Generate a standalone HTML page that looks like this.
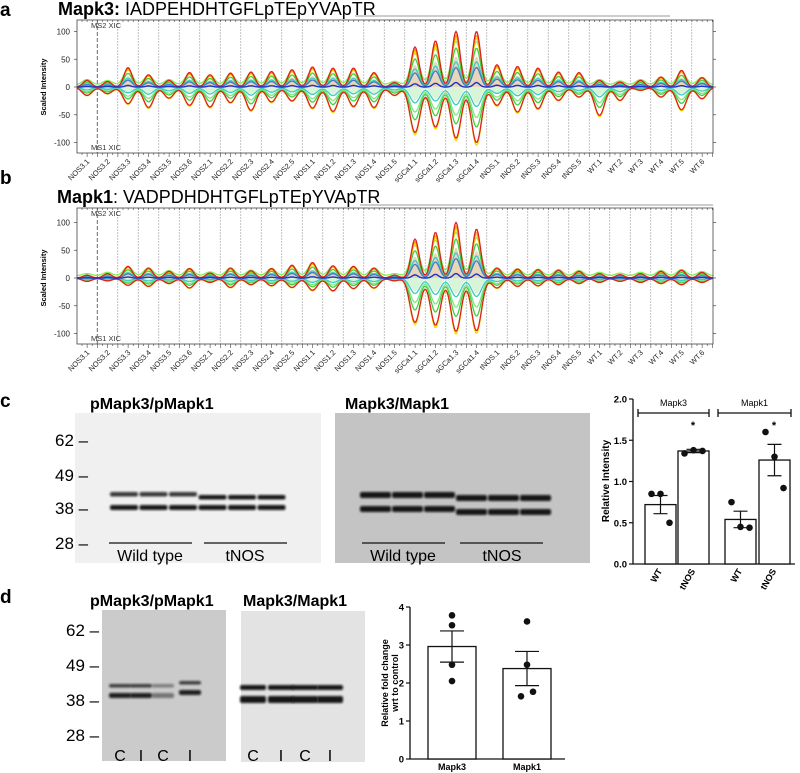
<!DOCTYPE html>
<html><head><meta charset="utf-8">
<style>
html,body{margin:0;padding:0;background:#fff;}
svg{display:block;font-family:"Liberation Sans",Arial,sans-serif;}
</style></head>
<body>
<svg id="fig" width="800" height="773" viewBox="0 0 800 773" xmlns="http://www.w3.org/2000/svg">
<defs>
<filter id="blur1" x="-20%" y="-100%" width="140%" height="300%"><feGaussianBlur stdDeviation="1.1"/></filter>
</defs>

<!-- Panel a -->
<text x="0" y="16" font-size="19" font-weight="bold">a</text>
<text x="58" y="15" font-size="18"><tspan font-weight="bold">Mapk3:</tspan> IADPEHDHTGFLpTEpYVApTR</text>
<line x1="355" y1="16" x2="670" y2="16" stroke="#999" stroke-width="1"/>
<g id="panelA"></g>

<!-- Panel b -->
<text x="0" y="184" font-size="19" font-weight="bold">b</text>
<text x="57" y="203" font-size="18"><tspan font-weight="bold">Mapk1</tspan>: VADPDHDHTGFLpTEpYVApTR</text>
<line x1="360" y1="205" x2="713" y2="205" stroke="#999" stroke-width="1"/>
<g id="panelB"></g>

<!-- Panel c -->
<text x="0" y="407" font-size="19" font-weight="bold">c</text>
<text x="90" y="409" font-size="16" font-weight="bold">pMapk3/pMapk1</text>
<text x="345" y="409" font-size="16" font-weight="bold">Mapk3/Mapk1</text>
<rect x="75" y="413" width="246" height="150" fill="#f0f0f0"/>
<rect x="335" y="413" width="255" height="150" fill="#c4c4c4"/>
<g id="blotC"></g>
<g font-size="17">
<text x="55" y="446">62 –</text><text x="55" y="481">49 –</text><text x="55" y="514">38 –</text><text x="55" y="549">28 –</text>
</g>
<g stroke="#111" stroke-width="1.2">
<line x1="109" y1="543" x2="192" y2="543"/><line x1="204" y1="543" x2="287" y2="543"/>
<line x1="362" y1="543" x2="445" y2="543"/><line x1="460" y1="543" x2="543" y2="543"/>
</g>
<g font-size="16" text-anchor="middle">
<text x="150" y="561">Wild type</text><text x="245" y="561">tNOS</text>
<text x="403" y="561">Wild type</text><text x="502" y="561">tNOS</text>
</g>
<g id="chartC"></g>

<!-- Panel d -->
<text x="0" y="603" font-size="19" font-weight="bold">d</text>
<text x="90" y="606" font-size="16" font-weight="bold">pMapk3/pMapk1</text>
<text x="243" y="606" font-size="16" font-weight="bold">Mapk3/Mapk1</text>
<rect x="102" y="610" width="124" height="151" fill="#cbcbcb"/>
<rect x="241" y="611" width="124" height="151" fill="#e3e3e3"/>
<g id="blotD"></g>
<g font-size="17">
<text x="66" y="636">62 –</text><text x="66" y="671">49 –</text><text x="66" y="706">38 –</text><text x="66" y="741">28 –</text>
</g>
<g font-size="16" text-anchor="middle">
<text x="120" y="761">C</text><text x="141" y="761">I</text><text x="163" y="761">C</text><text x="190" y="761">I</text>
<text x="253" y="761">C</text><text x="281" y="761">I</text><text x="305" y="761">C</text><text x="330" y="761">I</text>
</g>
<g id="chartD"></g>
</svg>

<script>
// ---------- XIC data ----------
const xicCategories = ["NOS3.1","NOS3.2","NOS3.3","NOS3.4","NOS3.5","NOS3.6","NOS2.1","NOS2.2","NOS2.3","NOS2.4","NOS2.5","NOS1.1","NOS1.2","NOS1.3","NOS1.4","NOS1.5","sGCa1.1","sGCa1.2","sGCa1.3","sGCa1.4","tNOS.1","tNOS.2","tNOS.3","tNOS.4","tNOS.5","WT.1","WT.2","WT.3","WT.4","WT.5","WT.6"];
const mapk3Ms2 = [12,10,35,22,12,26,22,25,27,28,31,36,34,34,26,8,72,83,100,100,40,37,34,27,26,12,9,12,18,30,17];
const mapk3Ms1 = [15,12,30,37,20,33,36,28,42,27,25,38,44,35,37,15,82,72,92,100,33,45,39,24,18,51,24,6,18,41,21];
const mapk1Ms2 = [5,8,21,18,12,17,9,18,13,17,23,28,22,21,18,5,70,82,100,88,18,16,15,14,12,8,6,8,12,14,10];
const mapk1Ms1 = [6,5,13,15,10,18,8,17,12,14,17,22,23,19,18,5,80,85,96,95,18,15,14,12,10,8,6,8,10,12,8];
const xicYTicks = [100,50,0,-50,-100];

// ---------- Bar chart c data ----------
const cCategories = ["WT","tNOS","WT","tNOS"];
const cMeans = [0.72,1.37,0.54,1.26];
const cSem = [0.11,0.02,0.10,0.19];
const cPoints = [[0.85,0.85,0.50],[1.34,1.38,1.37],[0.75,0.45,0.44],[1.60,1.30,0.92]];
const cYTicks = [0,0.5,1.0,1.5,2.0];

// ---------- Bar chart d data ----------
const dCategories = ["Mapk3","Mapk1"];
const dMeans = [2.96,2.38];
const dSem = [0.41,0.45];
const dPoints = [[3.78,3.52,2.48,2.05],[3.62,2.48,1.65,1.77]];
const dYTicks = [0,1,2,3,4];

const NS = "http://www.w3.org/2000/svg";
function mk(tag, attrs, parent){
  const e = document.createElementNS(NS, tag);
  for (const k in attrs) e.setAttribute(k, attrs[k]);
  parent.appendChild(e);
  return e;
}

function drawXIC(g, top, bottom, zeroY, tops, bots){
  const L = 77, R = 713, ppu = 0.555;
  const xOf = i => 87 + i * 20.5;
  const yOf = v => zeroY - v * ppu;
  for (let i = 0; i < xicCategories.length - 1; i++) {
    const x = xOf(i) + 10.25;
    const s = mk("line", {x1:x, y1:top, x2:x, y2:bottom, stroke: i===0 ? "#444" : "#aaa", "stroke-width": i===0?0.8:0.7, "stroke-dasharray": i===0 ? "4,2" : "2,1"}, g);
    
    
  }
  function curve(arr, frac, sign, sigma, offset){
    let d = "";
    for (let x = L; x <= R; x += 1) {
      let v = offset;
      for (let i = 0; i < arr.length; i++) {
        const dx = x - xOf(i);
        if (Math.abs(dx) < 30) v += arr[i] * frac * Math.exp(-dx*dx/(2*sigma*sigma));
      }
      d += (x === L ? "M" : "L") + x + "," + yOf(sign * v).toFixed(1);
    }
    return d;
  }
  const fillTop = mk("path", {d: curve(tops, 0.55, 1, 4, 0) + "L" + R + "," + zeroY + "L" + L + "," + zeroY + "Z", fill:"#e8d6b8", stroke:"none"}, g);
  
  
  const fillBot = mk("path", {d: curve(bots, 0.3, -1, 4.5, 0) + "L" + R + "," + zeroY + "L" + L + "," + zeroY + "Z", fill:"#d8f5d8", stroke:"none"}, g);
  
  
  const topLayers = [["#7cf05a",0.78,4.5,4],["#f5e400",0.88,4,0],["#ff9900",0.93,4,0],["#40d040",0.7,4,0],["#40c8c8",0.45,4,0],["#4a78c8",0.35,4,0],["#e02020",1.0,4,0]];
  const botLayers = [["#f0e000",1.05,5,0],["#40d040",0.72,5,0],["#80e880",0.55,5,0],["#40c8c8",0.35,5,0],["#e02020",1.0,5,0]];
  topLayers.forEach(l => {
    const p = mk("path", {d: curve(tops, l[1], 1, l[2], l[3]), fill:"none", stroke:l[0], "stroke-width":1.3}, g);
    
    
  });
  botLayers.forEach(l => {
    const p = mk("path", {d: curve(bots, l[1], -1, l[2], l[3]), fill:"none", stroke:l[0], "stroke-width":1.3}, g);
    
    
  });
  const blue = mk("path", {d: curve(tops, 0.08, 1, 3, 0), fill:"none", stroke:"#2030c8", "stroke-width":1.4}, g);
  
  
  const fr = mk("rect", {x:L, y:top, width:R-L, height:bottom-top, fill:"none", stroke:"#444", "stroke-width":0.8}, g);
  
  
  for (let x = L + 5; x < R; x += 5.125) {
    const t = mk("line", {x1:x, y1:bottom, x2:x, y2:bottom + (Math.round((x-L)/5.125)%2 ? 2 : 4), stroke:"#444", "stroke-width":0.6}, g);
    
    
    const t2 = mk("line", {x1:x, y1:top, x2:x, y2:top+2, stroke:"#444", "stroke-width":0.6}, g);
    
    
  }
  xicYTicks.forEach(v => {
    const y = yOf(v);
    const t = mk("line", {x1:L-3, y1:y, x2:L, y2:y, stroke:"#444", "stroke-width":0.7}, g);
    
    
    const t3 = mk("line", {x1:R, y1:y, x2:R+3, y2:y, stroke:"#444", "stroke-width":0.7}, g);
    
    
    const lb = mk("text", {x:L-7, y:y+3, "font-size":8, "text-anchor":"end", fill:"#222"}, g);
    
    
    lb.textContent = String(v);
  });
  const yt = mk("text", {x:0, y:0, "font-size":7.5, "font-weight":"bold", "text-anchor":"middle", transform:"translate(46," + zeroY + ") rotate(-90)"}, g);
  
  
  yt.textContent = "Scaled Intensity";
  const m2 = mk("text", {x:91, y:top+8, "font-size":7.5, fill:"#333"}, g);
  
  
  m2.textContent = "MS2 XIC";
  const m1 = mk("text", {x:91, y:bottom-3, "font-size":7.5, fill:"#333"}, g);
  
  
  m1.textContent = "MS1 XIC";
  xicCategories.forEach((c, i) => {
    const x = xOf(i) + 3, y = bottom + 9;
    const t = mk("text", {x:x, y:y, "font-size":7.5, "text-anchor":"end", fill:"#222", transform:"rotate(-45 " + x + " " + y + ")"}, g);
    
    
    t.textContent = c;
  });
}
drawXIC(document.getElementById("panelA"), 20, 153, 87, mapk3Ms2, mapk3Ms1);
drawXIC(document.getElementById("panelB"), 208, 344, 278, mapk1Ms2, mapk1Ms1);

// ---------- blots ----------
function band(g, x, y, w, h, op, name){
  const r = mk("rect", {x:x, y:y, width:w, height:h, rx:2, fill:"#111", opacity:op, filter:"url(#blur1)"}, g);
  
  
}
const bc = document.getElementById("blotC");
for (let i = 0; i < 6; i++) {
  const x = 110 + i * 29.5;
  band(bc, x, 492 + (i>2?3:0), 28, 4.5, i<3?0.8:0.95, 'upper-band');
  band(bc, x, 505, 28, 5, 0.95, 'lower-band');
  const x2 = 360 + i * 32;
  band(bc, x2, 492 + (i>2?3:0), 31, 6, 0.95, 'upper-band');
  band(bc, x2, 506 + (i>2?3:0), 31, 6, 0.95, 'lower-band');
}
const bd = document.getElementById("blotD");
const dLanes = [120,141,163,190];
dLanes.forEach((cx, i) => {
  band(bd, cx-11, i===3?681:684, 22, 3.5, i===2?0.4:0.75, 'upper-band');
  band(bd, cx-11, i===3?690:693, 22, 5, i===2?0.45:0.9, 'lower-band');
});
[253,281,305,330].forEach(cx => {
  band(bd, cx-13, 685, 26, 5, 0.95, 'upper-band');
  band(bd, cx-13, 696, 26, 7, 0.95, 'lower-band');
});

// ---------- chart c ----------
(function(){
  const g = document.getElementById("chartC");
  const yC = v => 564 - v * 82.5;
  const bx = [645,678,725,759], bw = 31;
  const ax = mk("path", {d:"M633,399L633,564L795,564", fill:"none", stroke:"#111", "stroke-width":1.3}, g);
  
  
  cYTicks.forEach(v => {
    const t = mk("line", {x1:629, y1:yC(v), x2:633, y2:yC(v), stroke:"#111", "stroke-width":1.2}, g);
    
    
    const l = mk("text", {x:627, y:yC(v)+3.5, "font-size":9.5, "font-weight":"bold", "text-anchor":"end"}, g);
    
    
    l.textContent = v.toFixed(1);
  });
  const yt = mk("text", {x:0, y:0, "font-size":10, "font-weight":"bold", "text-anchor":"middle", transform:"translate(609,481) rotate(-90)"}, g);
  
  
  yt.textContent = "Relative Intensity";
  cMeans.forEach((m, i) => {
    const cx = bx[i] + bw/2;
    const b = mk("rect", {x:bx[i], y:yC(m), width:bw, height:564-yC(m), fill:"#fff", stroke:"#111", "stroke-width":1.3}, g);
    
    
    const e = mk("path", {d:"M"+cx+","+yC(m+cSem[i])+"L"+cx+","+yC(m-cSem[i])+"M"+(cx-7)+","+yC(m+cSem[i])+"L"+(cx+7)+","+yC(m+cSem[i])+"M"+(cx-7)+","+yC(m-cSem[i])+"L"+(cx+7)+","+yC(m-cSem[i]), stroke:"#111", "stroke-width":1.2, fill:"none"}, g);
    
    
    const n = cPoints[i].length;
    cPoints[i].forEach((v, j) => {
      const off = (j - (n-1)/2) * 9;
      const p = mk("circle", {cx:cx+off, cy:yC(v), r:3.3, fill:"#111"}, g);
      
      
    });
    const lx = cx + 2, ly = 571;
    const t = mk("text", {x:lx, y:ly, "font-size":9, "font-weight":"bold", "text-anchor":"end", transform:"rotate(-60 "+lx+" "+ly+")"}, g);
    
    
    t.textContent = cCategories[i];
  });
  [["Mapk3",638,709],["Mapk1",718,791]].forEach(b => {
    const p = mk("path", {d:"M"+b[1]+",413L"+b[2]+",413M"+b[1]+",409L"+b[1]+",417M"+b[2]+",409L"+b[2]+",417", stroke:"#111", "stroke-width":1.3, fill:"none"}, g);
    
    
    const t = mk("text", {x:(b[1]+b[2])/2, y:406, "font-size":9, "text-anchor":"middle"}, g);
    
    
    t.textContent = b[0];
  });
  [693,774].forEach(x => {
    const s = mk("text", {x:x, y:429, "font-size":11, "font-weight":"bold", "text-anchor":"middle"}, g);
    
    
    s.textContent = "*";
  });
})();

// ---------- chart d ----------
(function(){
  const g = document.getElementById("chartD");
  const yD = v => 759 - v * 38;
  const bx = [428,503], bw = 48;
  const ax = mk("path", {d:"M410,607L410,759L565,759", fill:"none", stroke:"#111", "stroke-width":1.3}, g);
  
  
  dYTicks.forEach(v => {
    const t = mk("line", {x1:406, y1:yD(v), x2:410, y2:yD(v), stroke:"#111", "stroke-width":1.2}, g);
    
    
    const l = mk("text", {x:404, y:yD(v)+3.5, "font-size":9.5, "font-weight":"bold", "text-anchor":"end"}, g);
    
    
    l.textContent = String(v);
  });
  const yt = mk("text", {x:0, y:0, "font-size":9, "font-weight":"bold", "text-anchor":"middle"}, g);
  
  
  yt.setAttribute('transform', 'translate(388,683) rotate(-90)');
  const t1 = mk("tspan", {x:0, dy:0}, yt); t1.textContent = "Relative fold change";
  const t2 = mk("tspan", {x:0, dy:10}, yt); t2.textContent = "wrt to control";
  dMeans.forEach((m, i) => {
    const cx = bx[i] + bw/2;
    const b = mk("rect", {x:bx[i], y:yD(m), width:bw, height:759-yD(m), fill:"#fff", stroke:"#111", "stroke-width":1.3}, g);
    
    
    const e = mk("path", {d:"M"+cx+","+yD(m+dSem[i])+"L"+cx+","+yD(m-dSem[i])+"M"+(cx-12)+","+yD(m+dSem[i])+"L"+(cx+12)+","+yD(m+dSem[i])+"M"+(cx-12)+","+yD(m-dSem[i])+"L"+(cx+12)+","+yD(m-dSem[i]), stroke:"#111", "stroke-width":1.2, fill:"none"}, g);
    
    
    dPoints[i].forEach((v, j) => {
      let off = 0;
      if (i === 1 && j === 2) off = -6;
      if (i === 1 && j === 3) off = 6;
      const p = mk("circle", {cx:cx+off, cy:yD(v), r:3.3, fill:"#111"}, g);
      
      
    });
    const t = mk("text", {x:cx, y:770, "font-size":9, "font-weight":"bold", "text-anchor":"middle"}, g);
    
    
    t.textContent = dCategories[i];
  });
})();
</script>
</body></html>
